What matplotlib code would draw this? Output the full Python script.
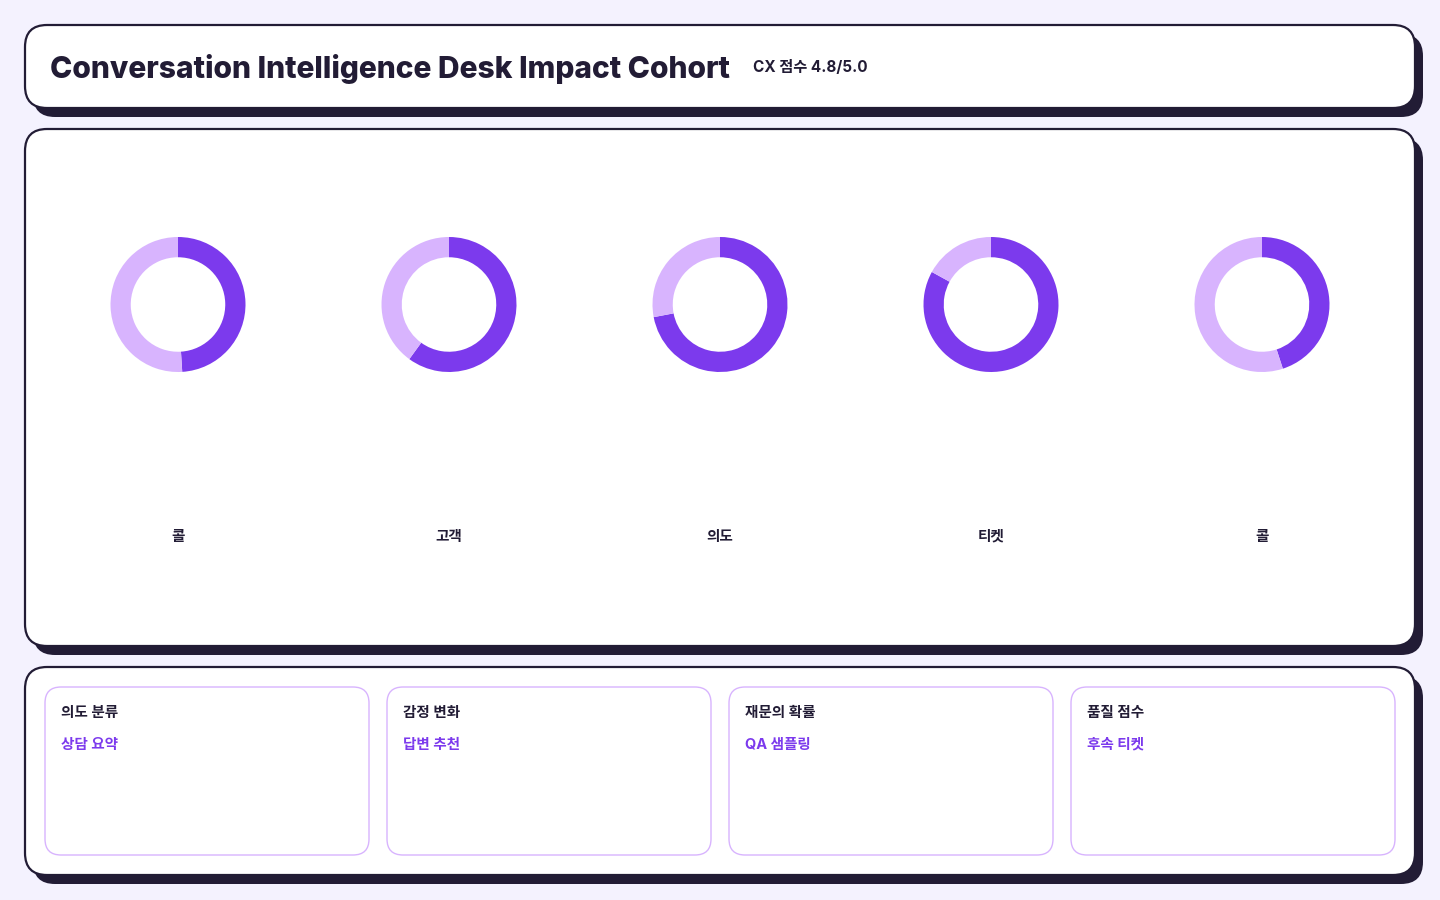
import matplotlib
matplotlib.use("Agg")
import matplotlib.pyplot as plt
from matplotlib.patches import FancyBboxPatch

# chart data
title = "Conversation Intelligence Desk Impact Cohort"
subtitle = "CX 점수 4.8/5.0"
donut_labels = ["콜", "고객", "의도", "티켓", "콜"]
donut_values = [49, 60, 72, 83, 45]
card_titles = ["의도 분류", "감정 변화", "재문의 확률", "품질 점수"]
card_subtitles = ["상담 요약", "답변 추천", "QA 샘플링", "후속 티켓"]

BG = "#f4f2fe"
INK = "#221c35"
DARK = "#7c3aed"
LIGHT = "#d8b4fe"
W, H = 1440, 900

plt.rcParams['font.family'] = ['Inter', 'Noto Sans CJK KR', 'DejaVu Sans']

fig = plt.figure(figsize=(W / 100, H / 100), dpi=100, facecolor=BG)
base = fig.add_axes([0, 0, 1, 1])
base.set_xlim(0, W)
base.set_ylim(H, 0)
base.axis("off")


def panel(x0, y0, x1, y1, r=22):
    # shadow first, then white card with dark border
    sh = FancyBboxPatch((x0 + 8, y0 + 9), x1 - x0, y1 - y0,
                        boxstyle="round,pad=0,rounding_size=%d" % r,
                        fc=INK, ec="none", zorder=1)
    base.add_patch(sh)
    p = FancyBboxPatch((x0, y0), x1 - x0, y1 - y0,
                       boxstyle="round,pad=0,rounding_size=%d" % r,
                       fc="white", ec=INK, lw=1.6, zorder=2)
    base.add_patch(p)


panel(25, 25, 1415, 108)
panel(25, 129, 1415, 646)
panel(25, 667, 1415, 875)

base.text(50, 69, title, fontsize=21.6, fontweight="heavy", color=INK,
          va="center", ha="left", zorder=3)
base.text(753, 68, subtitle, fontsize=11, fontweight="bold", color=INK,
          va="center", ha="left", zorder=3)

# donuts
cx0, step, cy, rad = 178, 271, 304.5, 67.5
for i, (lab, v) in enumerate(zip(donut_labels, donut_values)):
    cx = cx0 + step * i
    ax = fig.add_axes([(cx - rad) / W, 1 - (cy + rad) / H, 2 * rad / W, 2 * rad / H])
    ax.pie([v, 100 - v], colors=[DARK, LIGHT], startangle=90, counterclock=False,
           radius=1, wedgeprops=dict(width=0.3, edgecolor="none"))
    ax.set_xlim(-1, 1)
    ax.set_ylim(-1, 1)
    ax.axis("off")
    base.text(cx, 537, lab, fontsize=10.5, fontweight="bold", color=INK,
              ha="center", va="center", zorder=3)

# cards
card_x = [45, 387, 729, 1071]
for x, t, s in zip(card_x, card_titles, card_subtitles):
    c = FancyBboxPatch((x, 687), 324, 168, boxstyle="round,pad=0,rounding_size=16",
                       fc="white", ec=LIGHT, lw=1, zorder=3)
    base.add_patch(c)
    base.text(x + 16, 713, t, fontsize=10.5, fontweight="semibold", color=INK,
              ha="left", va="center", zorder=4)
    base.text(x + 16, 745, s, fontsize=10.5, fontweight="bold", color=DARK,
              ha="left", va="center", zorder=4)

fig.savefig("out.png", dpi=100, facecolor=BG)
